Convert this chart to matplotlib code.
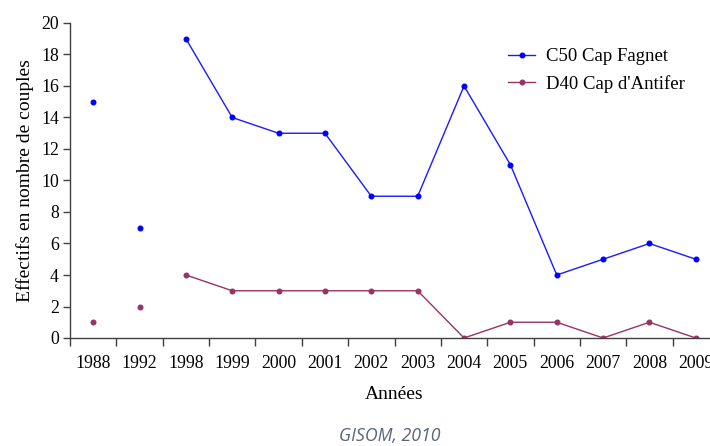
import numpy as np
import matplotlib.pyplot as plt

years = ['1988', '1992', '1998', '1999', '2000', '2001', '2002', '2003',
         '2004', '2005', '2006', '2007', '2008', '2009']
c50 = [15, 7, 19, 14, 13, 13, 9, 9, 16, 11, 4, 5, 6, 5]
d40 = [1, 2, 4, 3, 3, 3, 3, 3, 0, 1, 1, 0, 1, 0]

plt.rcParams['font.family'] = ['Liberation Serif', 'DejaVu Serif']

fig = plt.figure(figsize=(7.1, 4.46), dpi=100)
ax = fig.add_axes([70 / 710, 1 - 338 / 446, 649 / 710, 315 / 446])

x = np.arange(len(years))
blue = '#1a1aff'
plum = '#993366'

# les deux premières années ne sont pas reliées
ax.plot(x[2:], c50[2:], color=blue, lw=1, marker='o', ms=3.3, mfc='#0000ff', mec='#0000ff', label='C50 Cap Fagnet')
ax.plot(x[:2], c50[:2], ls='none', marker='o', ms=3.3, color='#0000ff')
ax.plot(x[2:], d40[2:], color=plum, lw=1, marker='o', ms=3.3, label="D40 Cap d'Antifer")
ax.plot(x[:2], d40[:2], ls='none', marker='o', ms=3.3, color=plum)

ax.set_xlim(-0.5, len(years) - 0.5)
ax.set_ylim(0, 20)
ax.set_yticks(range(0, 21, 2))
ax.set_xticks(x - 0.5)
ax.set_xticklabels([])
ax.set_xticks(x, minor=True)
ax.set_xticklabels(years, minor=True)
ax.tick_params(axis='x', which='major', direction='out', length=6, width=1, color='#404040')
ax.tick_params(axis='x', which='minor', length=0, pad=12, labelsize=12.8)
ax.tick_params(axis='y', direction='out', length=5, width=1, color='#404040', labelsize=12.8, pad=3)

for s in ['top', 'right']:
    ax.spines[s].set_visible(False)
for s in ['left', 'bottom']:
    ax.spines[s].set_color('#404040')
    ax.spines[s].set_linewidth(1)

ax.set_xlabel('Années', fontsize=14, labelpad=10)
ax.set_ylabel('Effectifs en nombre de couples', fontsize=14, labelpad=5)

ax.legend(loc='upper left', bbox_to_anchor=(0.675, 0.92), frameon=False,
          borderpad=0, borderaxespad=0, fontsize=13.5, handlelength=1.45,
          handletextpad=0.55, labelspacing=0.5)

fig.text(390 / 710, 1 - 436 / 446, 'GISOM, 2010', ha='center', va='center',
         fontsize=12.8, style='italic', color='#5b6478', family='Open Sans')

fig.savefig('out.png', dpi=100)
